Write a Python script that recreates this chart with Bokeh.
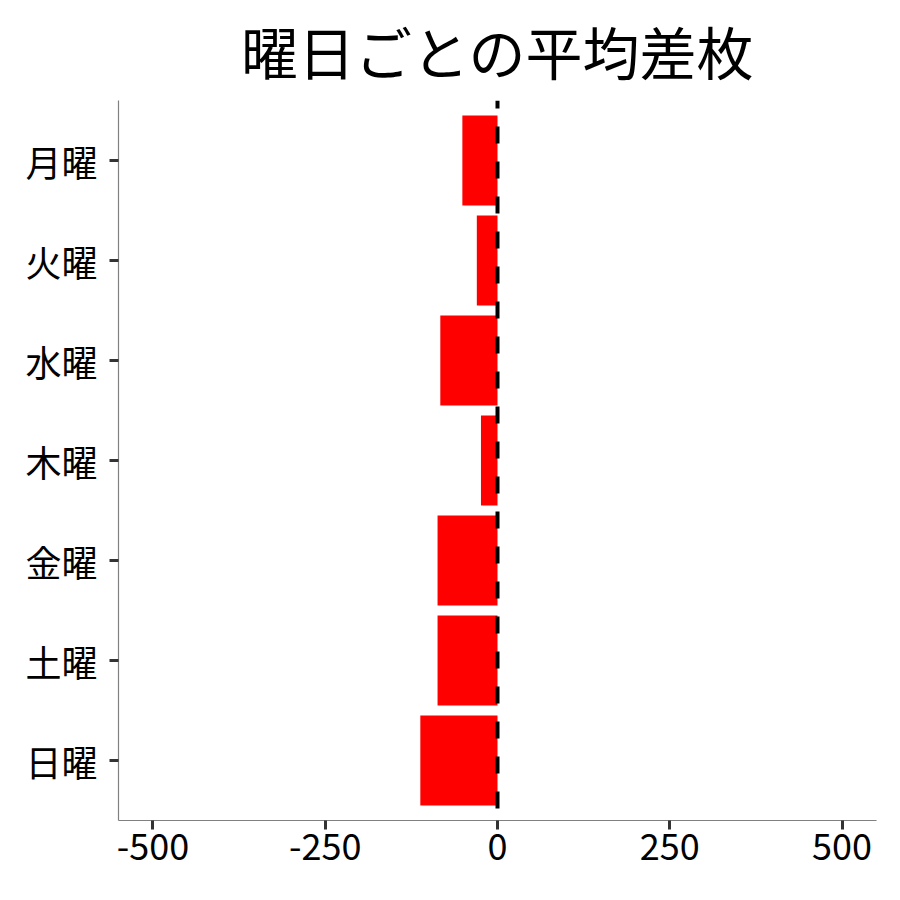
from bokeh.plotting import figure
from bokeh.models import Range1d, FactorRange, FixedTicker, Span
from bokeh.embed import file_html
from bokeh.resources import INLINE

days = ["月曜", "火曜", "水曜", "木曜", "金曜", "土曜", "日曜"]
avg_diff = [-51, -30, -83, -24, -87, -87, -112]
x_ticks = [-500, -250, 0, 250, 500]
title_text = "曜日ごとの平均差枚"

FONT = "Noto Sans CJK JP"

p = figure(
    width=892, height=892,
    frame_width=758, frame_height=720,
    y_range=FactorRange(factors=list(reversed(days)), range_padding=0.1,
                        range_padding_units="absolute"),
    x_range=Range1d(-550, 550),
    output_backend="svg", toolbar_location=None,
    min_border_left=118, min_border_right=16, min_border_top=100, min_border_bottom=72,
)

p.hbar(y=days, right=avg_diff, left=0, height=0.9, color="#FF0000", line_color=None)

p.add_layout(Span(location=0, dimension="height", line_color="black",
                  line_width=4, line_dash="17 18", line_dash_offset=9))

p.title.text = title_text
p.title.text_font = FONT
p.title.text_font_size = "57px"
p.title.text_font_style = "normal"
p.title.align = "center"
p.title.vertical_align = "top"
p.title.standoff = 15
p.title.text_color = "black"

p.xgrid.visible = False
p.ygrid.visible = False
p.outline_line_color = None

p.xaxis.ticker = FixedTicker(ticks=x_ticks)
p.xaxis.major_label_overrides = {t: str(t) for t in x_ticks}

for ax in (p.xaxis, p.yaxis):
    ax.axis_line_color = "#808080"
    ax.axis_line_width = 1.2
    ax.major_tick_line_color = "#333333"
    ax.major_tick_line_width = 3
    ax.major_tick_out = 9
    ax.major_tick_in = 0
    ax.minor_tick_line_color = None
    ax.major_label_text_font = FONT
    ax.major_label_text_font_size = "36px"
    ax.major_label_text_color = "black"

p.xaxis.major_label_standoff = 4
p.yaxis.major_label_standoff = 12

open("out.html", "w").write(file_html(p, INLINE))
